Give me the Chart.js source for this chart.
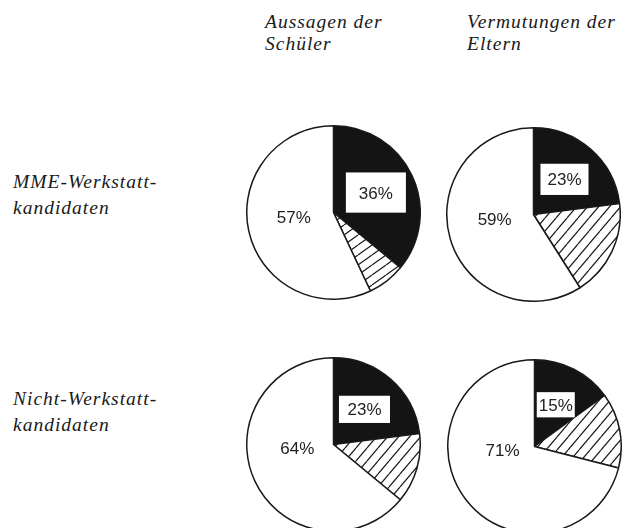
<!DOCTYPE html>
<html>
<head>
<meta charset="utf-8">
<script src="https://cdn.jsdelivr.net/npm/chart.js@4.4.0/dist/chart.umd.min.js"></script>
<style>
  html, body { margin: 0; padding: 0; background: #fff; width: 635px; height: 528px; overflow: hidden; }
  .txt { position: absolute; font-family: "Liberation Serif", "Times New Roman", serif; font-style: italic;
         font-size: 19.5px; letter-spacing: 1px; color: #1a1a1a; white-space: nowrap; }
  .head { line-height: 22px; }
  .row { line-height: 26px; }
  canvas { position: absolute; }
</style>
</head>
<body>
<div class="txt head" id="h0" style="left:265px; top:10.7px;"></div>
<div class="txt head" id="h1" style="left:467px; top:10.7px;"></div>
<div class="txt row" id="r0" style="left:13px; top:168.7px;"></div>
<div class="txt row" id="r1" style="left:13px; top:386px;"></div>

<canvas id="c0" width="175" height="175" style="left:246px; top:125px;"></canvas>
<canvas id="c1" width="175" height="175" style="left:446px; top:127px;"></canvas>
<canvas id="c2" width="175" height="175" style="left:246px; top:357px;"></canvas>
<canvas id="c3" width="175" height="175" style="left:447px; top:359px;"></canvas>

<script>
// ---- data ----
const columnLabels = [['Aussagen der', 'Schüler'], ['Vermutungen der', 'Eltern']];
const rowLabels = [['MME-Werkstatt-', 'kandidaten'], ['Nicht-Werkstatt-', 'kandidaten']];
const segmentNames = ['schwarz', 'schraffiert', 'weiß'];
const mmeSchueler = [36, 7, 57];
const mmeEltern = [23, 18, 59];
const nichtSchueler = [23, 13, 64];
const nichtEltern = [15, 14, 71];

// ---- styles ----
const pies = [mmeSchueler, mmeEltern, nichtSchueler, nichtEltern];
const hatchTiles = [[14, 10], [11, 13], [11, 13], [11, 13]];
const boxPad = [[13, 14], [7, 9.5], [8.5, 7.5], [2, 6.5]];
const whiteLabelRadius = [0.46, 0.45, 0.42, 0.37];

columnLabels.forEach((l, i) => document.getElementById('h' + i).innerHTML = l.join('<br>'));
rowLabels.forEach((l, i) => document.getElementById('r' + i).innerHTML = l.join('<br>'));

function hatch(w, h) {
  const c = document.createElement('canvas');
  c.width = w; c.height = h;
  const g = c.getContext('2d');
  g.fillStyle = '#fff'; g.fillRect(0, 0, w, h);
  g.strokeStyle = '#1a1a1a'; g.lineWidth = 1.2;
  [-w, 0, w].forEach(o => { g.beginPath(); g.moveTo(o, h); g.lineTo(o + w, 0); g.stroke(); });
  return g.createPattern(c, 'repeat');
}

const labelPlugin = {
  id: 'pctLabels',
  afterDatasetsDraw(chart) {
    const ctx = chart.ctx;
    const idx = chart.options.plugins.pctLabels.index;
    const data = chart.data.datasets[0].data;
    const arcs = chart.getDatasetMeta(0).data;
    ctx.save();
    ctx.font = '17px "Liberation Sans", Arial, sans-serif';
    ctx.textAlign = 'center';
    ctx.textBaseline = 'alphabetic';
    const capHalf = 6.1;
    // black segment: boxed label at mid-angle
    const a0 = arcs[0];
    const mid = (a0.startAngle + a0.endAngle) / 2;
    const r0 = a0.outerRadius * 0.54;
    const x0 = a0.x + Math.cos(mid) * r0, y0 = a0.y + Math.sin(mid) * r0;
    const t0 = data[0] + '%';
    const tw = ctx.measureText(t0).width;
    const [px, py] = boxPad[idx];
    ctx.fillStyle = '#fff';
    ctx.fillRect(x0 - tw / 2 - px, y0 - capHalf - py, tw + 2 * px, 2 * capHalf + 2 * py);
    ctx.fillStyle = '#222';
    ctx.fillText(t0, x0, y0 + capHalf);
    // white segment: plain label left of centre
    const a2 = arcs[2];
    const ang = Math.PI * (264 - 90) / 180;
    const r2 = a2.outerRadius * whiteLabelRadius[idx];
    const x2 = a2.x + Math.cos(ang) * r2, y2 = a2.y + Math.sin(ang) * r2;
    ctx.fillText(data[2] + '%', x2, y2 + capHalf);
    ctx.restore();
  }
};

pies.forEach((vals, i) => {
  new Chart(document.getElementById('c' + i), {
    type: 'pie',
    data: {
      labels: segmentNames,
      datasets: [{
        data: vals,
        backgroundColor: ['#141414', hatch(hatchTiles[i][0], hatchTiles[i][1]), '#ffffff'],
        borderColor: '#1a1a1a',
        borderWidth: 1.5,
        borderAlign: 'center'
      }]
    },
    options: {
      responsive: false,
      animation: false,
      layout: { padding: 0 },
      events: [],
      plugins: {
        legend: { display: false },
        tooltip: { enabled: false },
        pctLabels: { index: i }
      }
    },
    plugins: [labelPlugin]
  });
});
</script>
</body>
</html>
